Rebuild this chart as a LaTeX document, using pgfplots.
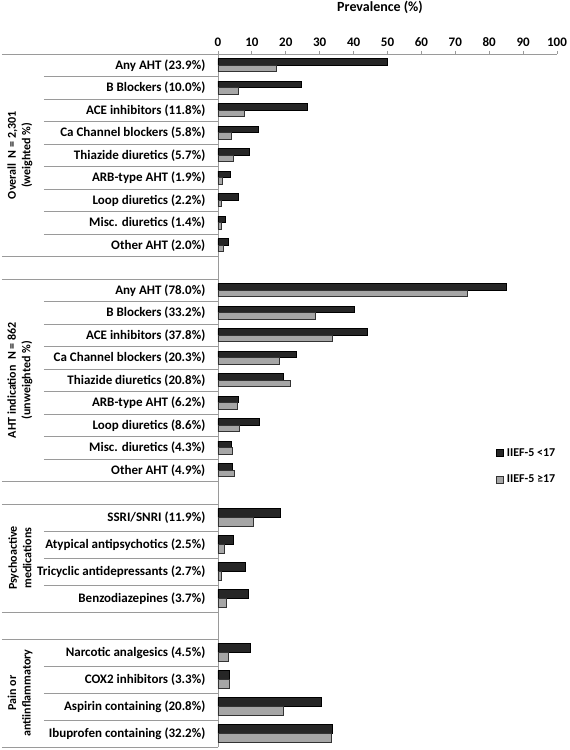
\documentclass[border=0pt]{standalone}
\usepackage{pgfplots}
\pgfplotsset{compat=1.18}
\usepackage{fontspec}
\setmainfont{Carlito}
\definecolor{darkbar}{HTML}{262626}
\definecolor{graybar}{HTML}{A6A6A6}
\definecolor{axisgray}{HTML}{9A9A9A}
\begin{document}
\begin{tikzpicture}
\begin{axis}[
  scale only axis,
  width=339pt, height=693pt,
  xmin=0, xmax=100, ymin=0, ymax=30.8,
  xbar,
  axis x line=top, axis y line=left,
  axis line style={-, draw=axisgray, line width=0.8pt},
  xtick={0,10,...,100},
  xtick align=outside,
  major tick length=3pt,
  x tick style={draw=axisgray, line width=0.8pt},
  y tick style={draw=none},
  /pgf/number format/assume math mode=true,
  xticklabel style={font=\bfseries\fontsize{13}{15}\selectfont, yshift=1pt},
  xlabel={Prevalence (\%)},
  xlabel style={font=\bfseries\fontsize{14}{16}\selectfont, at={(axis description cs:0.478,1)}, anchor=center, yshift=47pt},
  ytick={0.6,1.8,3.0,4.2,6.6,7.8,9.0,10.2,12.3,13.3,14.3,15.3,16.3,17.3,18.3,19.3,20.3,22.3,23.3,24.3,25.3,26.3,27.3,28.3,29.3,30.3},
  yticklabels={
    Ibuprofen containing  (32.2\%),
    Aspirin containing  (20.8\%),
    COX2 inhibitors (3.3\%),
    Narcotic analgesics  (4.5\%),
    Benzodiazepines (3.7\%),
    Tricyclic antidepressants  (2.7\%),
    Atypical antipsychotics  (2.5\%),
    SSRI/SNRI (11.9\%),
    Other AHT (4.9\%),
    Misc. diuretics  (4.3\%),
    Loop diuretics (8.6\%),
    ARB-type AHT (6.2\%),
    Thiazide diuretics  (20.8\%),
    Ca Channel blockers (20.3\%),
    ACE inhibitors  (37.8\%),
    B Blockers  (33.2\%),
    Any AHT (78.0\%),
    Other AHT (2.0\%),
    Misc. diuretics  (1.4\%),
    Loop diuretics (2.2\%),
    ARB-type AHT (1.9\%),
    Thiazide diuretics  (5.7\%),
    Ca Channel blockers (5.8\%),
    ACE inhibitors  (11.8\%),
    B Blockers  (10.0\%),
    Any AHT (23.9\%)},
  yticklabel style={font=\bfseries\fontsize{13}{15}\selectfont, anchor=east, inner sep=0pt, xshift=-11pt},
  clip=false,
  legend image code/.code={\draw[#1] (0pt,-3.5pt) rectangle (7pt,3.5pt);},
  legend style={draw=none, fill=none, at={(0.81,0.436)}, anchor=north west,
    font=\bfseries\fontsize{12}{14}\selectfont, row sep=14pt, column sep=2pt,
    nodes={inner sep=1.5pt}},
  legend cell align=left,
]
% upper section (AHT groups)
\addplot[fill=darkbar, draw=black, line width=0.6pt, bar width=0.29, bar shift=0.145] coordinates {
  (4.2,12.3) (4.0,13.3) (12.1,14.3) (6.1,15.3) (19.4,16.3) (23.1,17.3) (43.9,18.3) (40.1,19.3) (85.0,20.3)
  (2.9,22.3) (2.3,23.3) (6.1,24.3) (3.6,25.3) (9.3,26.3) (12.0,27.3) (26.3,28.3) (24.7,29.3) (50.0,30.3)};
\addlegendentry{IIEF-5 <17}
\addplot[fill=graybar, draw=black!80, line width=0.6pt, bar width=0.29, bar shift=-0.145] coordinates {
  (4.9,12.3) (4.2,13.3) (6.3,14.3) (5.8,15.3) (21.3,16.3) (18.2,17.3) (33.8,18.3) (28.7,19.3) (73.4,20.3)
  (1.5,22.3) (0.9,23.3) (0.9,24.3) (1.2,25.3) (4.4,26.3) (3.8,27.3) (7.7,28.3) (6.0,29.3) (17.1,30.3)};
\addlegendentry{IIEF-5 ≥17}
% lower section (psychoactive, pain)
\addplot[forget plot, fill=darkbar, draw=black, line width=0.6pt, bar width=0.41, bar shift=0.205] coordinates {
  (33.8,0.6) (30.6,1.8) (3.2,3.0) (9.4,4.2) (8.8,6.6) (8.2,7.8) (4.6,9.0) (18.5,10.2)};
\addplot[forget plot, fill=graybar, draw=black!80, line width=0.6pt, bar width=0.41, bar shift=-0.205] coordinates {
  (33.4,0.6) (19.2,1.8) (3.3,3.0) (3.0,4.2) (2.5,6.6) (1.1,7.8) (2.0,9.0) (10.4,10.2)};
% category frame lines
\pgfplotsinvokeforeach{30.8,21.8,20.8,11.8,10.8,6.0,4.8,0}{
  \draw[axisgray, line width=0.8pt] ([xshift=-216pt]axis cs:0,#1) -- (axis cs:0,#1);}
\pgfplotsinvokeforeach{29.8,28.8,27.8,26.8,25.8,24.8,23.8,22.8,19.8,18.8,17.8,16.8,15.8,14.8,13.8,12.8,9.6,8.4,7.2,3.6,2.4,1.2}{
  \draw[axisgray, line width=0.8pt] ([xshift=-174pt]axis cs:0,#1) -- (axis cs:0,#1);}
% group labels
\node[rotate=90, align=center, font=\bfseries\fontsize{12}{14.5}\selectfont] at ([xshift=-198pt]axis cs:0,26.3) {Overall\hspace{0.45em}N = 2,301\\(weighted \%)};
\node[rotate=90, align=center, font=\bfseries\fontsize{12}{14.5}\selectfont] at ([xshift=-198pt]axis cs:0,16.3) {AHT indication\hspace{0.45em}N = 862\\(unweighted \%)};
\node[rotate=90, align=center, font=\bfseries\fontsize{12}{14.5}\selectfont] at ([xshift=-198pt]axis cs:0,8.4) {Psychoactive\\medications};
\node[rotate=90, align=center, font=\bfseries\fontsize{12}{14.5}\selectfont] at ([xshift=-198pt]axis cs:0,2.4) {Pain or\\antiinflammatory};
\coordinate (O) at (axis cs:0,30.8);
\end{axis}
\pgfresetboundingbox
\path[use as bounding box] ([shift={(-218pt,54pt)}]O) rectangle ([shift={(352pt,-696pt)}]O);
\end{tikzpicture}
\end{document}
